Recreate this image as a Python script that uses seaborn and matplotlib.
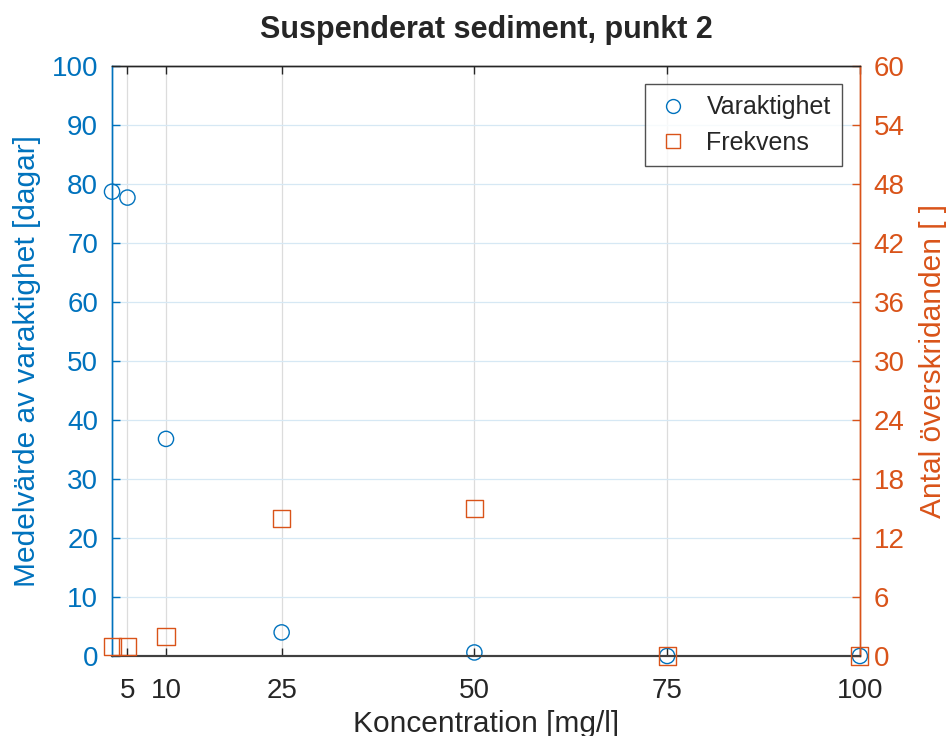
import matplotlib
matplotlib.use("Agg")
import matplotlib.pyplot as plt
from matplotlib.lines import Line2D
import seaborn as sns
import pandas as pd

# Data
konc = [3, 5, 10, 25, 50, 75, 100]
varaktighet = [78.7, 77.7, 36.8, 4.0, 0.6, 0.0, 0.0]
frekvens = [1, 1, 2, 14, 15, 0, 0]

x_ticks = [5, 10, 25, 50, 75, 100]
left_ticks = list(range(0, 101, 10))
right_ticks = list(range(0, 61, 6))

BLUE = "#0072BD"
ORANGE = "#D95319"
DARK = "#262626"

sns.set_style("white")
plt.rcParams["font.family"] = ["Liberation Sans", "DejaVu Sans"]

df = pd.DataFrame({"konc": konc, "varaktighet": varaktighet, "frekvens": frekvens})

fig = plt.figure(figsize=(9.47, 7.36), dpi=100)
ax = fig.add_axes([0.1183, 0.1087, 0.7897, 0.8016])
ax2 = ax.twinx()

# Circles on left axis
sns.scatterplot(data=df, x="konc", y="varaktighet", ax=ax, marker="o", s=120,
                facecolor="none", edgecolor=BLUE, linewidth=1.0, clip_on=False, zorder=3)
# Squares on right axis
sns.scatterplot(data=df, x="konc", y="frekvens", ax=ax2, marker="s", s=150,
                facecolor="none", edgecolor=ORANGE, linewidth=1.0, clip_on=False, zorder=3)

ax.set_xlim(3, 100)
ax.set_ylim(0, 100)
ax2.set_ylim(0, 60)
ax.set_xticks(x_ticks)
ax.set_yticks(left_ticks)
ax2.set_yticks(right_ticks)

# Grid: vertical gray, horizontal light blue
for xv in x_ticks:
    ax.axvline(xv, color="#dcdcdc", lw=0.9, zorder=0)
for yv in left_ticks[1:-1]:
    ax.axhline(yv, color="#d6e8f4", lw=0.9, zorder=0)

ax.tick_params(axis="x", direction="in", length=6, width=1, colors=DARK, labelsize=20,
               top=True, bottom=True, pad=16)
ax.tick_params(axis="y", direction="in", length=6, width=1, colors=BLUE, labelsize=20,
               left=True, right=False, pad=10)
ax2.tick_params(axis="y", direction="in", length=6, width=1, colors=ORANGE, labelsize=20,
                right=True, left=False, pad=10)

for a in (ax, ax2):
    a.spines["top"].set_color(DARK)
    a.spines["bottom"].set_color("#404040")
    a.spines["left"].set_color(BLUE)
    a.spines["right"].set_color(ORANGE)
    for s in a.spines.values():
        s.set_linewidth(1.0)
    a.spines["bottom"].set_linewidth(1.5)

ax.set_xlabel("Koncentration [mg/l]", fontsize=21.5, color=DARK, labelpad=4)
ax.set_ylabel("Medelvärde av varaktighet [dagar]", fontsize=21.5, color=BLUE, labelpad=8)
ax2.set_ylabel("Antal överskridanden [ ]", fontsize=21.5, color=ORANGE, labelpad=10)
ax.set_title("Suspenderat sediment, punkt 2", fontsize=22, fontweight="bold", pad=20)

handles = [
    Line2D([], [], marker="o", ls="none", markersize=10, markerfacecolor="none",
           markeredgecolor=BLUE, label="Varaktighet"),
    Line2D([], [], marker="s", ls="none", markersize=10, markerfacecolor="none",
           markeredgecolor=ORANGE, label="Frekvens"),
]
leg = ax2.legend(handles=handles, loc="upper right", bbox_to_anchor=(0.976, 0.9695),
                 fontsize=18, frameon=True, fancybox=False, edgecolor=DARK,
                 borderaxespad=0, handlelength=1.3, handletextpad=0.7,
                 borderpad=0.45, labelspacing=0.45)
leg.get_frame().set_linewidth(1.0)

fig.savefig("out.png", dpi=100)
